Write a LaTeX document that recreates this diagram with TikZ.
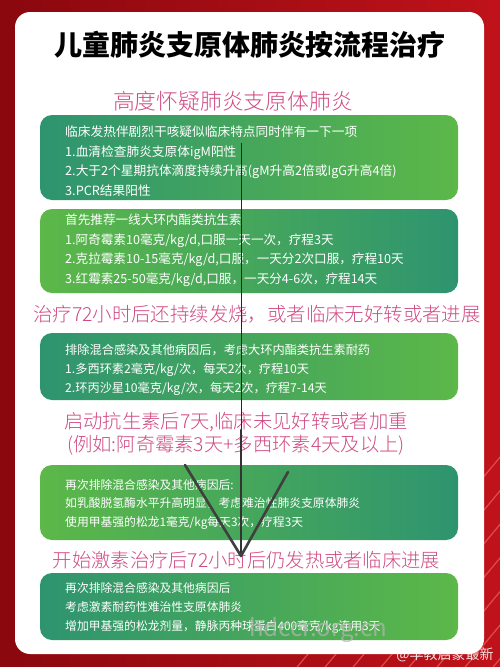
\documentclass[tikz,border=0pt]{standalone}
\usepackage{fontspec}
\setmainfont{Noto Sans CJK SC}
\newfontfamily\titlefont{Noto Sans CJK SC Black}
\newfontfamily\headfont{Noto Sans CJK SC Light}
\definecolor{bgdark}{RGB}{138,8,14}
\definecolor{bgred}{RGB}{192,18,26}
\definecolor{stripe}{RGB}{232,90,90}
\definecolor{greendark}{RGB}{46,148,112}
\definecolor{greenlight}{RGB}{92,184,72}
\definecolor{headpink}{RGB}{208,74,130}
\tikzset{
  greenbox/.style={rounded corners=12pt, minimum width=418pt, inner sep=0pt},
  boxtext/.style={anchor=west, align=left, text=white, inner sep=0pt},
  headtext/.style={text=headpink, inner sep=0pt, align=center},
}
\begin{document}
\begin{tikzpicture}[x=1pt,y=-1pt]
\useasboundingbox (0,0) rectangle (500,667);
\fill[left color=bgdark, right color=bgred] (0,0) rectangle (500,667);
\begin{scope}
\clip (270,667) -- (500,667) -- (500,440) -- cycle;
\foreach \s in {0,...,16}
  \draw[stripe, line width=1.2pt, opacity=.8] (250+\s*28,690) -- ++(200,-240);
\end{scope}
\fill[white, rounded corners=15pt] (15,12) rectangle (484,654);

\node[inner sep=0pt] (title) at (250,45)
  {\titlefont\fontsize{28}{30}\selectfont 儿童肺炎支原体肺炎按流程治疗};

\node[headtext, font=\headfont\fontsize{21.8}{24}\selectfont] (suspect) at (233,101.7)
  {高度怀疑肺炎支原体肺炎};
\node[greenbox, left color=greendark, right color=greenlight,
  minimum height=85pt] (diagbox) at (249,157.5) {};
\node[boxtext, font=\fontsize{12.7}{19.5}\selectfont] (diagtext) at (65,161)
  {临床发热伴剧烈干咳疑似临床特点同时伴有一下一项\\
   1.血清检查肺炎支原体igM阳性\\
   2.大于2个星期抗体滴度持续升高(gM升高2倍或IgG升高4倍)\\
   3.PCR结果阳性};

\node[greenbox, left color=greenlight, right color=greendark,
  minimum height=84pt] (drugbox) at (249,251) {};
\node[boxtext, font=\fontsize{12.6}{19.5}\selectfont] (drugtext) at (65,250)
  {首先推荐一线大环内酯类抗生素\\
   1.阿奇霉素10毫克/kg/d,口服一天一次，疗程3天\\
   2.克拉霉素10-15毫克/kg/d,口服，一天分2次口服，疗程10天\\
   3.红霉素25-50毫克/kg/d,口服，一天分4-6次，疗程14天};

\node[headtext, font=\headfont\fontsize{19.4}{22}\selectfont] (fever) at (257,314)
  {治疗72小时后还持续发烧，或者临床无好转或者进展};
\node[greenbox, left color=greendark, right color=greenlight,
  minimum height=67pt] (resistbox) at (249,366.5) {};
\node[boxtext, font=\fontsize{12.2}{19.2}\selectfont] (resisttext) at (65,370)
  {排除混合感染及其他病因后，考虑大环内酯类抗生素耐药\\
   1.多西环素2毫克/kg/次，每天2次，疗程10天\\
   2.环丙沙星10毫克/kg/次，每天2次，疗程7-14天};

\node[headtext, font=\headfont\fontsize{19.3}{23}\selectfont] (worse) at (236,433.5)
  {启动抗生素后7天,临床未见好转或者加重\\(例如:阿奇霉素3天+多西环素4天及以上)};
\node[greenbox, left color=greenlight, right color=greendark,
  minimum height=75pt] (steroidbox) at (249,502.5) {};
\node[boxtext, font=\fontsize{11.8}{18.5}\selectfont] (steroidtext) at (65,504)
  {再次排除混合感染及其他病因后:\\
   如乳酸脱氢酶水平升高明显，考虑难治性肺炎支原体肺炎\\
   使用甲基强的松龙1毫克/kg每天3次，疗程3天};

\node[headtext, font=\headfont\fontsize{19.3}{22}\selectfont] (hormone) at (246.5,560)
  {开始激素治疗后72小时后仍发热或者临床进展};
\node[greenbox, left color=greendark, right color=greenlight,
  minimum height=67pt] (finalbox) at (249,606.5) {};
\node[boxtext, font=\fontsize{11.8}{19}\selectfont] (finaltext) at (65,608.3)
  {再次排除混合感染及其他病因后\\
   考虑激素耐药性难治性支原体肺炎\\
   增加甲基强的松龙剂量，静脉丙种球蛋白400毫克/kg连用3天};

% hand drawn arrow
\coordinate (arrowtop) at (241,143);
\coordinate (arrowmid) at (241,430);
\coordinate (arrowtip) at (241,556);
\coordinate (arrowleft) at (185,465);
\coordinate (arrowright) at (288,472);
\draw[black!85, line width=1pt] (arrowtop) -- (arrowmid);
\draw[black!80, line width=2.6pt, line cap=round] (arrowmid) -- (arrowtip);
\draw[black!75, line width=2.6pt, line cap=round] (arrowleft) -- (arrowtip);
\draw[black!75, line width=2.6pt, line cap=round] (arrowright) -- (arrowtip);

\node[inner sep=0pt, text=gray!60, opacity=.75, font=\fontsize{24}{26}\selectfont]
  (mark) at (318,630) {hdccr.org.cn};
\node[inner sep=0pt, text=white, opacity=.85, font=\fontsize{14}{16}\selectfont]
  (author) at (445,655) {@早教启蒙最新};
\end{tikzpicture}
\end{document}
